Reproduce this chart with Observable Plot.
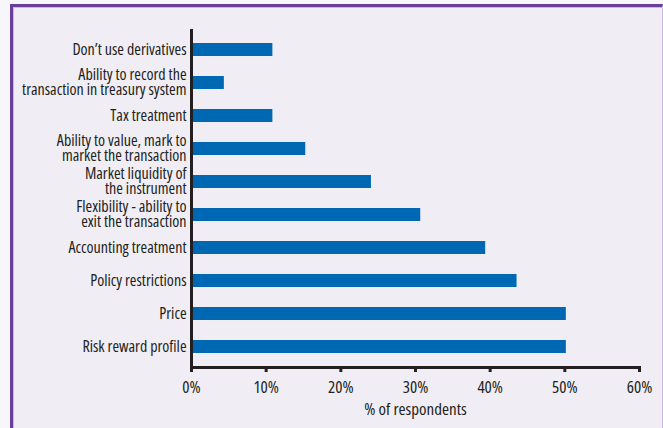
<!DOCTYPE html>
<html>
<head>
<meta charset="utf-8">
<script src="https://cdn.jsdelivr.net/npm/d3@7"></script>
<script src="https://cdn.jsdelivr.net/npm/@observablehq/plot@0.6"></script>
<style>
  html, body { margin: 0; padding: 0; background: #f7f6fa; }
  #wrap { position: relative; width: 663px; height: 428px; overflow: hidden; }
  #frame {
    position: absolute; left: 10px; top: 4px; width: 649px; height: 440px;
    background: #f0edf5;
    border-left: 3px solid #6a3f9c; border-top: 3px solid #6a3f9c;
    border-right: 1px solid #cbbde0;
    box-shadow: inset 1px 1px 0 #c9b8e0;
  }
  #chart { position: absolute; left: 0; top: 0; }
  #chart svg, #chart svg text { font-stretch: 75%; }
</style>
</head>
<body>
<div id="wrap"><div id="frame"></div><div id="chart"></div></div>
<script>
const categories = [
  "Don’t use derivatives",
  "Ability to record the\ntransaction in treasury system",
  "Tax treatment",
  "Ability to value, mark to\nmarket the transaction",
  "Market liquidity of\nthe instrument",
  "Flexibility - ability to\nexit the transaction",
  "Accounting treatment",
  "Policy restrictions",
  "Price",
  "Risk reward profile"
];
const values = [10.9, 4.4, 10.9, 15.3, 24.1, 30.7, 39.4, 43.6, 50.2, 50.2];
const xTicks = [0, 10, 20, 30, 40, 50, 60];
const xLabel = "% of respondents";

const data = categories.map((c, i) => ({category: c, value: values[i]}));
const ink = "#231f20";

const chart = Plot.plot({
  width: 663,
  height: 428,
  marginTop: 29,
  marginBottom: 61,
  marginLeft: 191,
  marginRight: 24,
  style: {
    fontFamily: "'Open Sans', 'DejaVu Sans Condensed', sans-serif",
    color: ink,
    background: "transparent"
  },
  x: {domain: [0, 60], axis: null},
  y: {domain: categories, paddingInner: 0.6, paddingOuter: 0.3, axis: null},
  marks: [
    Plot.barX(data, {x: "value", y: "category", fill: "#0067b2"}),
    Plot.axisY({tickSize: 0, tickPadding: 5, fontSize: 16, lineHeight: 0.95, fill: ink, label: null}),
    Plot.axisX(xTicks, {
      tickSize: 5, tickPadding: 8, strokeWidth: 3, stroke: ink,
      fontSize: 17, fill: ink,
      tickFormat: d => d + "%",
      label: xLabel, labelAnchor: "center", labelArrow: "none", labelOffset: 47
    }),
    Plot.frame({anchor: "bottom", stroke: ink, strokeWidth: 3}),
    Plot.ruleX([0], {stroke: ink, strokeWidth: 3, insetBottom: -1.5})
  ]
});
document.getElementById("chart").appendChild(chart);
</script>
</body>
</html>
